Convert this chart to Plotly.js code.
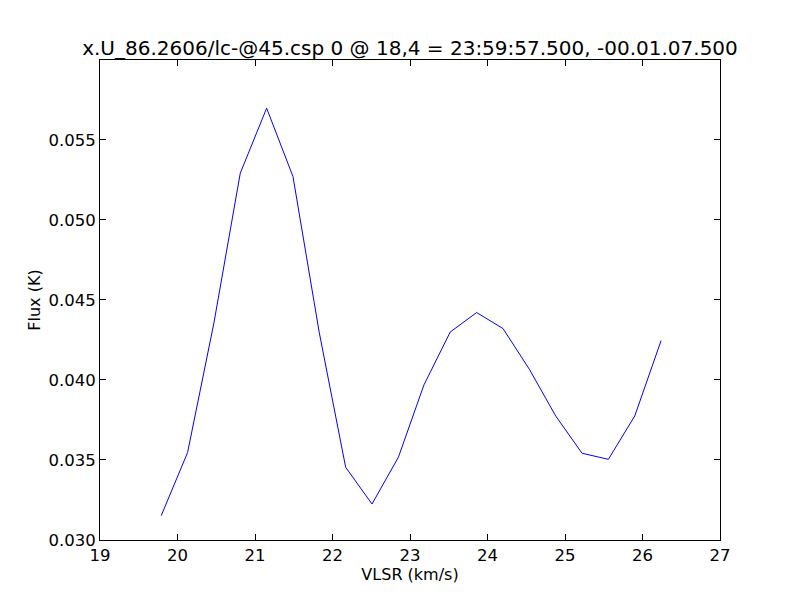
<!DOCTYPE html>
<html>
<head>
<meta charset="utf-8">
<script src="https://cdn.plot.ly/plotly-3.0.1.min.js"></script>
<style>html,body{margin:0;padding:0;background:#fff;}#chart{width:800px;height:600px;}</style>
</head>
<body>
<div id="chart"></div>
<script>
const velocity = [19.79, 20.13, 20.47, 20.81, 21.15, 21.49, 21.83, 22.17, 22.51, 22.85,
                  23.18, 23.52, 23.86, 24.20, 24.54, 24.88, 25.22, 25.56, 25.90, 26.24];
const flux = [0.03152, 0.03546, 0.04356, 0.05292, 0.05698, 0.05271, 0.04294, 0.03454, 0.03225, 0.03517,
              0.03969, 0.04300, 0.04421, 0.04321, 0.04067, 0.03775, 0.03542, 0.03504, 0.03775, 0.04246];
const titleText = "x.U_86.2606/lc-@45.csp 0 @ 18,4 = 23:59:57.500, -00.01.07.500";
const xLabel = "VLSR (km/s)";
const yLabel = "Flux (K)";

const font = "DejaVu Sans, sans-serif";
const axisCommon = {
  showline: true, linecolor: "#000", linewidth: 1, mirror: "ticks",
  ticks: "inside", ticklen: 6, tickwidth: 1, tickcolor: "#000",
  showgrid: false, zeroline: false,
  tickfont: {family: font, size: 16.5, color: "#000"}
};
Plotly.newPlot("chart", [{
  x: velocity, y: flux, type: "scatter", mode: "lines",
  line: {color: "#0000ff", width: 1}
}], {
  width: 800, height: 600,
  margin: {l: 100, r: 80, t: 60, b: 60},
  paper_bgcolor: "#fff", plot_bgcolor: "#fff",
  showlegend: false,
  title: {text: titleText, font: {family: font, size: 20, color: "#000"}, x: 0.5125, xanchor: "center", y: 0.92, yanchor: "middle"},
  xaxis: Object.assign({}, axisCommon, {range: [19, 27], dtick: 1, tick0: 19,
    title: {text: xLabel, font: {family: font, size: 16, color: "#000"}, standoff: 0}}),
  yaxis: Object.assign({}, axisCommon, {range: [0.030, 0.05999], dtick: 0.005, tick0: 0.030, tickformat: ".3f",
    title: {text: yLabel, font: {family: font, size: 16, color: "#000"}, standoff: 3}})
}, {displayModeBar: false, staticPlot: true});
</script>
</body>
</html>
